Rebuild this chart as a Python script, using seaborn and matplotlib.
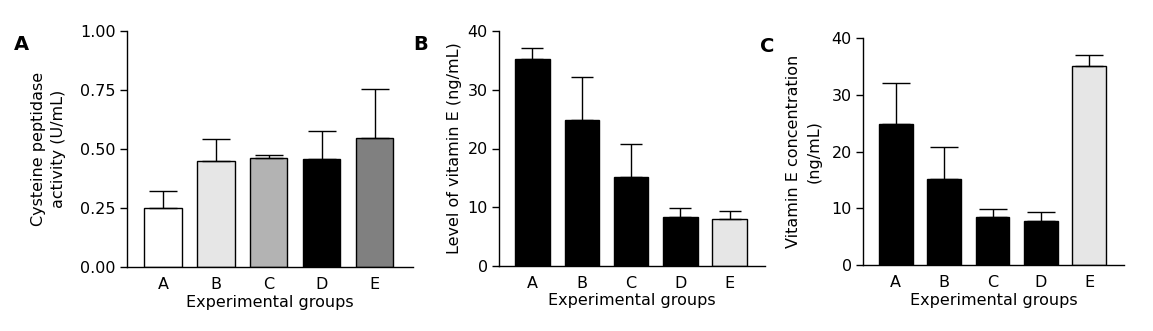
import matplotlib
matplotlib.use("Agg")
import matplotlib.pyplot as plt
import seaborn as sns
import numpy as np

sns.set_style("ticks")
plt.rcParams['font.family'] = ['DejaVu Sans']
plt.rcParams.update({
    "text.color": "black",
    "axes.labelcolor": "black",
    "axes.edgecolor": "black",
    "xtick.color": "black",
    "ytick.color": "black",
})

groups = ["A", "B", "C", "D", "E"]

# Panel A
cp_mean = [0.252, 0.448, 0.460, 0.456, 0.547]
cp_err_top = [0.320, 0.541, 0.473, 0.578, 0.754]
cp_colors = ["#ffffff", "#e6e6e6", "#b3b3b3", "#000000", "#808080"]

# Panel B
ve_level_mean = [35.2, 24.9, 15.2, 8.4, 8.05]
ve_level_err_top = [37.05, 32.2, 20.8, 9.86, 9.4]
ve_level_colors = ["#000000", "#000000", "#000000", "#000000", "#e6e6e6"]

# Panel C
ve_conc_mean = [24.9, 15.2, 8.5, 7.8, 35.06]
ve_conc_err_top = [32.06, 20.85, 9.86, 9.4, 37.0]
ve_conc_colors = ["#000000", "#000000", "#000000", "#000000", "#e6e6e6"]

W, H = 1153, 331
fig = plt.figure(figsize=(W / 100, H / 100), dpi=100)

FS = 11.5

def panel(rect, means, tops, colors, ylim, yticks, ylabel, letter, letter_xy,
          ticklabels, labelpad, capsize):
    ax = fig.add_axes(rect)
    sns.barplot(x=groups, y=means, hue=groups, palette=colors, legend=False,
                width=0.7, edgecolor="black", linewidth=1.0, ax=ax, saturation=1)
    err = np.array(tops) - np.array(means)
    ax.errorbar(range(len(groups)), means, yerr=[np.zeros(len(err)), err],
                fmt="none", ecolor="black", elinewidth=1.0, capsize=capsize, capthick=1.0)
    ax.set_ylim(*ylim)
    ax.set_xlim(-0.68, 4.72)
    ax.set_yticks(yticks)
    ax.set_yticklabels(ticklabels, fontsize=FS)
    ax.tick_params(axis="x", length=0, labelsize=FS, pad=7)
    ax.tick_params(axis="y", length=5, width=1, direction="out", pad=3)
    for s in ["top", "right"]:
        ax.spines[s].set_visible(False)
    for s in ["left", "bottom"]:
        ax.spines[s].set_linewidth(1.0)
    ax.set_xlabel("Experimental groups", fontsize=FS, labelpad=2)
    ax.set_ylabel(ylabel, fontsize=FS, labelpad=labelpad, linespacing=1.45)
    fig.text(letter_xy[0] / W, 1 - letter_xy[1] / H, letter, fontsize=14,
             fontweight="bold", ha="left", va="center", color="black")
    return ax

panel([127 / W, 1 - 267 / H, (413 - 127) / W, (267 - 31) / H],
      cp_mean, cp_err_top, cp_colors, (0, 1.0), [0, 0.25, 0.5, 0.75, 1.0],
      "Cysteine peptidase\nactivity (U/mL)", "A", (14, 45),
      ["0.00", "0.25", "0.50", "0.75", "1.00"], 10, 10)

panel([499 / W, 1 - 266 / H, (765 - 499) / W, (266 - 31) / H],
      ve_level_mean, ve_level_err_top, ve_level_colors, (0, 40), [0, 10, 20, 30, 40],
      "Level of vitamin E (ng/mL)", "B", (413, 45),
      ["0", "10", "20", "30", "40"], 4, 8)

panel([863 / W, 1 - 265 / H, (1124 - 863) / W, (265 - 38) / H],
      ve_conc_mean, ve_conc_err_top, ve_conc_colors, (0, 40), [0, 10, 20, 30, 40],
      "Vitamin E concentration\n(ng/mL)", "C", (760, 46),
      ["0", "10", "20", "30", "40"], 7, 10)

fig.savefig("out.png", dpi=100)
